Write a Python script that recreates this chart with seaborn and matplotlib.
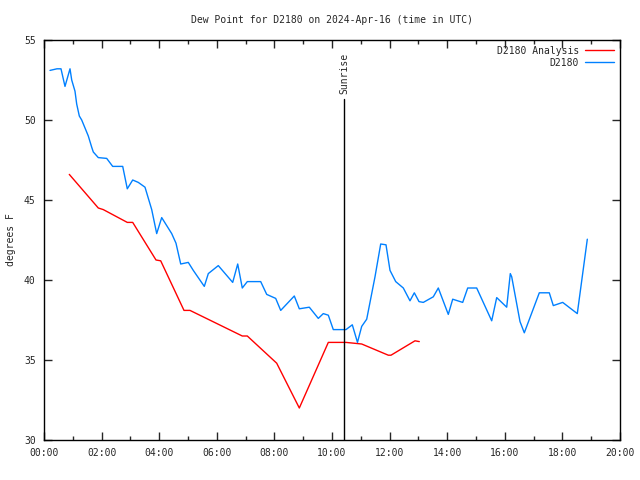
import matplotlib
matplotlib.use("Agg")
import matplotlib.pyplot as plt
import seaborn as sns
import pandas as pd
from matplotlib.ticker import MultipleLocator

# Observed dew point (hours UTC, degrees F)
obs_hours = [0.208, 0.451, 0.590, 0.729, 0.903, 0.962, 1.076, 1.135, 1.226, 1.309,
             1.424, 1.538, 1.656, 1.712, 1.885, 2.177, 2.385, 2.733, 2.892, 3.080,
             3.274, 3.507, 3.740, 3.913, 4.087, 4.434, 4.583, 4.747, 5.010, 5.184,
             5.566, 5.705, 6.052, 6.552, 6.726, 6.885, 7.059, 7.524, 7.733, 8.045,
             8.219, 8.691, 8.865, 9.212, 9.524, 9.698, 9.872, 10.045, 10.486, 10.705,
             10.885, 11.031, 11.205, 11.493, 11.691, 11.875, 12.014, 12.212, 12.476, 12.708,
             12.858, 13.021, 13.170, 13.517, 13.691, 14.038, 14.191, 14.538, 14.712, 15.024,
             15.545, 15.719, 16.066, 16.191, 16.240, 16.528, 16.677, 17.198, 17.545, 17.684,
             18.010, 18.517, 18.865]
obs_values = [53.1, 53.2, 53.2, 52.1, 53.2, 52.5, 51.8, 51.0, 50.25, 50.0,
              49.5, 49.0, 48.3, 48.0, 47.65, 47.6, 47.1, 47.1, 45.7, 46.25,
              46.1, 45.8, 44.4, 42.9, 43.9, 42.9, 42.3, 41.0, 41.1, 40.6,
              39.6, 40.4, 40.9, 39.85, 41.0, 39.5, 39.9, 39.9, 39.1, 38.85,
              38.1, 39.0, 38.2, 38.3, 37.6, 37.9, 37.8, 36.9, 36.9, 37.2,
              36.1, 37.1, 37.55, 40.2, 42.25, 42.2, 40.6, 39.9, 39.5, 38.7,
              39.2, 38.65, 38.6, 38.95, 39.5, 37.85, 38.8, 38.6, 39.5, 39.5,
              37.45, 38.9, 38.3, 40.4, 40.2, 37.4, 36.7, 39.2, 39.2, 38.4,
              38.6, 37.9, 42.55]

# Analysis dew point
ana_hours = [0.878, 1.885, 2.059, 2.892, 3.080, 3.889, 4.052, 4.861, 5.069, 6.885,
             7.059, 8.080, 8.865, 9.872, 10.486, 11.031, 11.955, 12.049, 12.882, 13.031]
ana_values = [46.6, 44.5, 44.4, 43.6, 43.6, 41.25, 41.2, 38.1, 38.1, 36.5,
              36.5, 34.8, 32.0, 36.1, 36.1, 36.0, 35.3, 35.3, 36.2, 36.15]

sunrise_hour = 10.42
title = "Dew Point for D2180 on 2024-Apr-16 (time in UTC)"
x_ticks = list(range(0, 21, 2))
x_labels = ["%02d:00" % h for h in x_ticks]
y_ticks = [30, 35, 40, 45, 50, 55]

sns.set_style("ticks")
plt.rcParams['font.family'] = ['DejaVu Sans Mono']
plt.rcParams['font.size'] = 7

df = pd.concat([
    pd.DataFrame({"hour": ana_hours, "value": ana_values, "series": "D2180 Analysis"}),
    pd.DataFrame({"hour": obs_hours, "value": obs_values, "series": "D2180"}),
])

fig = plt.figure(figsize=(6.4, 4.8), dpi=100)
ax = fig.add_axes([44/640, 40/480, 576/640, 400/480])
sns.lineplot(data=df, x="hour", y="value", hue="series", sort=False,
             palette={"D2180 Analysis": "#ff0000", "D2180": "#0080ff"},
             linewidth=1.0, ax=ax, estimator=None)

ax.set_xlim(0, 20)
ax.set_ylim(30, 55)
ax.set_xticks(x_ticks)
ax.set_xticklabels(x_labels)
ax.xaxis.set_minor_locator(MultipleLocator(1))
ax.set_yticks(y_ticks)
ax.tick_params(which='both', direction='in', top=True, right=True, labelsize=7, pad=6)
ax.tick_params(which='major', length=6, width=1)
ax.tick_params(which='minor', length=3, width=1)
for s in ax.spines.values():
    s.set_linewidth(1)
    s.set_color("black")

ax.set_xlabel("")
ax.set_ylabel("degrees F", fontsize=7, labelpad=6)
ax.set_title(title, fontsize=7, pad=12)

ax.plot([sunrise_hour, sunrise_hour], [30, 51.3], color="black", linewidth=1.0)
ax.text(sunrise_hour, 51.6, "Sunrise", rotation=90, ha="center", va="bottom", fontsize=7)

leg = ax.legend(loc="upper right", frameon=False, markerfirst=False,
                handlelength=3.0, fontsize=7, borderaxespad=0.2, labelspacing=0.2,
                handletextpad=0.6)
for t in leg.get_texts():
    t.set_ha("right")

fig.savefig("out.png", dpi=100)
